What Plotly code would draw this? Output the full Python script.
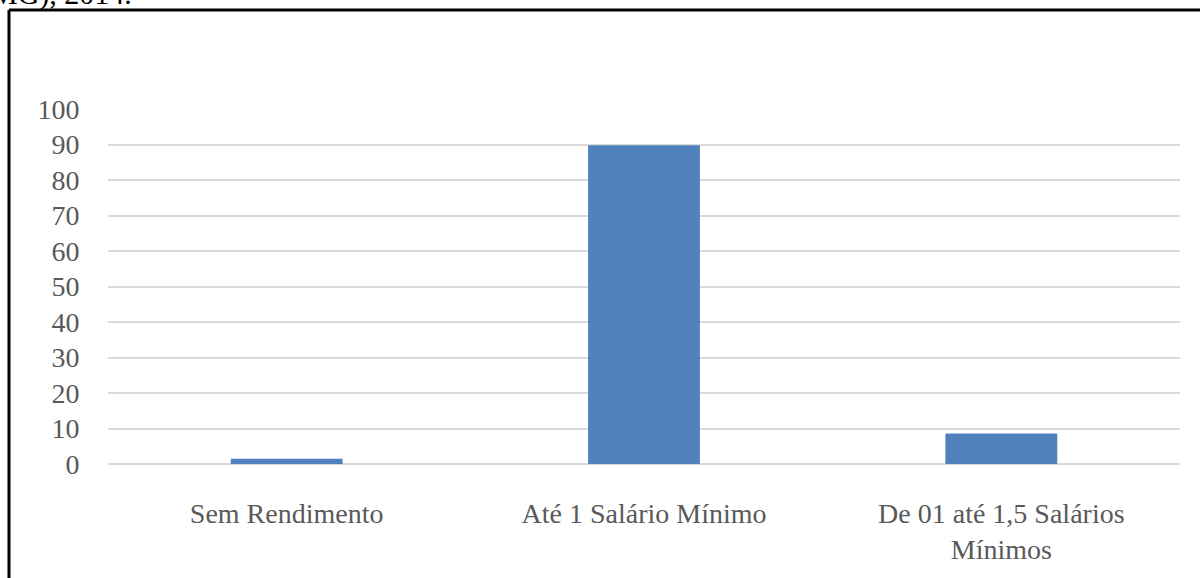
import plotly.graph_objects as go

categories = ["Sem Rendimento", "Até 1 Salário Mínimo", "De 01 até 1,5 Salários<br>Mínimos"]
values = [1.5, 89.8, 8.6]
y_ticks = [0, 10, 20, 30, 40, 50, 60, 70, 80, 90, 100]

W, H = 1200, 578
L, R, T, B = 108, 20, 109, 114
pw, ph = W - L - R, H - T - B

def px_x(px):
    return (px - L) / pw

def px_y(py):
    return (H - B - py) / ph

fig = go.Figure()
fig.add_trace(go.Bar(x=categories, y=values, marker=dict(color="#4f81bd", line=dict(width=0)),
                     width=0.313))

font = "Liberation Serif"
fig.update_layout(
    width=W, height=H,
    margin=dict(l=L, r=R, t=T, b=B),
    paper_bgcolor="white", plot_bgcolor="white",
    showlegend=False,
    font=dict(family=font, size=28, color="#595959"),
    xaxis=dict(showgrid=False, showline=False, zeroline=False, ticks="outside",
               ticklen=24, tickcolor="rgba(0,0,0,0)",
               tickfont=dict(family=font, size=28, color="#595959")),
    yaxis=dict(range=[0, 100], tickvals=y_ticks, showgrid=True, gridcolor="#d9d9d9", gridwidth=1.5,
               zeroline=True, zerolinecolor="#d9d9d9", zerolinewidth=1.5, showline=False,
               ticks="outside", ticklen=22, tickcolor="rgba(0,0,0,0)",
               tickfont=dict(family=font, size=28, color="#595959")),
)

# frame border around chart
fig.add_shape(type="line", xref="paper", yref="paper", x0=px_x(9), x1=px_x(1205), y0=px_y(10), y1=px_y(10),
              line=dict(color="black", width=3))
fig.add_shape(type="line", xref="paper", yref="paper", x0=px_x(9), x1=px_x(9), y0=px_y(10), y1=px_y(585),
              line=dict(color="black", width=3))

# partially visible caption text above the frame (cut off at the top, as in the reference)
fig.add_annotation(text="(MG), 2014.", xref="paper", yref="paper", x=px_x(134), y=px_y(13),
                   xanchor="right", yanchor="bottom", showarrow=False,
                   font=dict(family=font, size=30, color="black"))

fig.write_html("out.html")
